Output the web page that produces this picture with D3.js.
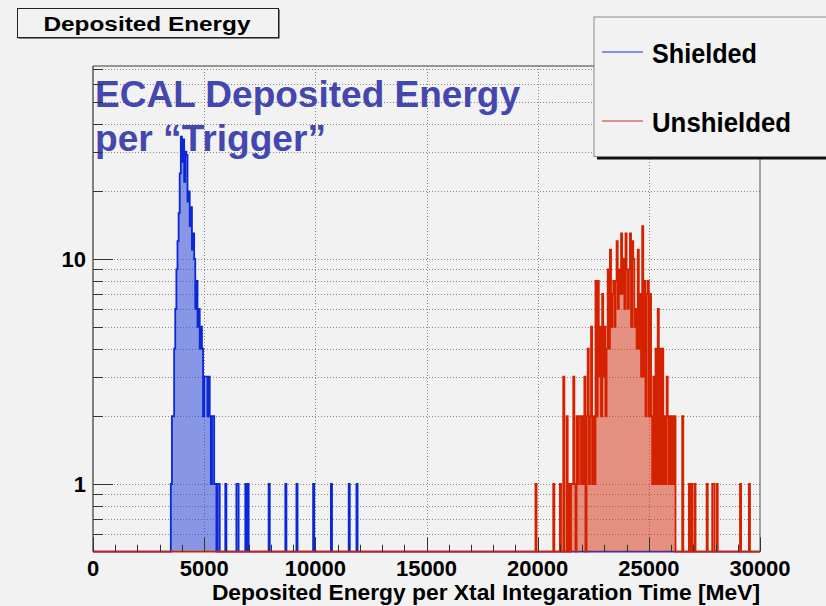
<!DOCTYPE html>
<html lang="en">
<head>
<meta charset="UTF-8">
<script src="https://cdn.jsdelivr.net/npm/d3@7"></script>
<title>Deposited Energy</title>
<style>
    body { margin: 0; background: #f2f2f2; }
    svg { display: block; font-family: "Liberation Sans", Arial, Helvetica, sans-serif; font-weight: bold; }
</style>
</head>
<body>
<div id="chart"></div>
<script>
    // histogram bins are 50 MeV wide, 0 - 30000 MeV
    const binWidth = 50;
    const xMax = 30000;

    // Shielded: main peak (consecutive bins from 3500 MeV) + isolated single hits
    const shieldedStart = 3500;
    const shieldedCounts = [1, 2, 2, 4, 6, 9, 12, 16, 24, 35, 27, 34, 22, 30, 29, 18, 20, 14, 17, 11,
        13, 10, 6, 8, 5, 6, 4, 5, 4, 2, 3, 3, 3, 2, 3, 2, 1, 2, 2, 1, 1, 0, 1, 1];
    const shieldedExtraE = [5950, 6450, 6500, 6850, 6950, 7900, 8650, 9150, 9900, 10700, 11500, 11850];
    const shieldedExtraN = [1, 1, 1, 1, 1, 1, 1, 1, 1, 1, 1, 1];

    // Unshielded: main peak (consecutive bins from 22200 MeV) + sparse bins on both sides
    const unshieldedStart = 22200;
    const unshieldedCounts = [2, 4, 1, 2, 5, 1, 2, 1, 8, 2, 8, 3, 5, 2, 7, 3, 5, 2, 4, 9,
        4, 11, 5, 7, 8, 5, 8, 12, 6, 9, 7, 13, 7, 10, 6, 13, 9, 6, 9, 13,
        5, 12, 10, 5, 6, 4, 11, 4, 7, 3, 14, 3, 8, 2, 7, 8, 2, 7, 2, 1,
        3, 1, 4, 1, 6, 1, 4, 1, 4, 1, 2, 1, 3, 2, 1, 2, 1, 2, 1, 2];
    const unshieldedExtraE = [19900, 20700, 21000, 21150, 21300, 21400, 21500, 21550, 21600, 21650,
        21750, 21800, 21850, 21900, 21950, 22000, 22050, 22100,
        26500, 26800, 26900, 27050, 27600, 27850, 27900, 28050, 29100, 29500];
    const unshieldedExtraN = [1, 1, 1, 3, 2, 1, 1, 1, 3, 1,
        2, 1, 2, 2, 1, 2, 1, 3,
        2, 1, 1, 1, 1, 1, 1, 1, 1, 1];

    const xTicks = [0, 5000, 10000, 15000, 20000, 25000, 30000];
    const yMajor = [1, 10];
    const yMinor = [0.6, 0.7, 0.8, 0.9, 2, 3, 4, 5, 6, 7, 8, 9, 20, 30, 40, 50, 60, 70];

    const W = 826, H = 606;
    const frame = { left: 93, right: 760, top: 66, bottom: 551.7 };

    const x = d3.scaleLinear().domain([0, xMax]).range([frame.left, frame.right]);
    const y = d3.scaleLog().domain([0.5, 72.1]).range([frame.bottom, frame.top]);

    function buildBins(start, counts, extraE, extraN) {
        const n = xMax / binWidth;
        const bins = new Array(n).fill(0);
        counts.forEach((c, i) => { bins[Math.round(start / binWidth) + i] += c; });
        extraE.forEach((e, i) => { bins[Math.round(e / binWidth)] += extraN[i]; });
        const pts = bins.map((c, i) => ({ e: i * binWidth, c }));
        pts.push({ e: xMax, c: bins[n - 1] });
        return pts;
    }

    const shielded = buildBins(shieldedStart, shieldedCounts, shieldedExtraE, shieldedExtraN);
    const unshielded = buildBins(unshieldedStart, unshieldedCounts, unshieldedExtraE, unshieldedExtraN);

    const svg = d3.select("#chart").append("svg").attr("width", W).attr("height", H);
    svg.append("rect").attr("width", W).attr("height", H).attr("fill", "#f2f2f2");

    // grid (dotted)
    const grid = svg.append("g").attr("stroke", "#8a8a8a").attr("stroke-width", 1).attr("stroke-dasharray", "1,2");
    yMajor.concat(yMinor).forEach(v => {
        const yy = Math.round(y(v)) + 0.5;
        grid.append("line").attr("x1", frame.left).attr("x2", frame.right).attr("y1", yy).attr("y2", yy);
    });
    xTicks.slice(1, -1).forEach(v => {
        const xx = Math.round(x(v)) + 0.5;
        grid.append("line").attr("x1", xx).attr("x2", xx).attr("y1", frame.top).attr("y2", frame.bottom);
    });

    // annotation text
    const note = svg.append("g").attr("fill", "#4448ae").style("font-size", "36.5px");
    note.append("text").attr("x", 95).attr("y", 107).attr("textLength", 425).attr("lengthAdjust", "spacingAndGlyphs").text("ECAL Deposited Energy");
    note.append("text").attr("x", 95).attr("y", 151).attr("textLength", 231).attr("lengthAdjust", "spacingAndGlyphs").text("per \u201cTrigger\u201d");

    // histograms
    const yv = d => d.c > 0 ? y(d.c) : frame.bottom;
    const line = d3.line().curve(d3.curveStepAfter).x(d => x(d.e)).y(yv);
    const area = d3.area().curve(d3.curveStepAfter).x(d => x(d.e)).y0(frame.bottom).y1(yv);

    function drawHist(data, fill, stroke) {
        svg.append("path").datum(data).attr("d", area).attr("fill", fill);
        svg.append("path").datum(data).attr("d", line).attr("fill", "none").attr("stroke", stroke)
            .attr("stroke-width", 1.8).attr("stroke-linejoin", "miter");
    }
    drawHist(shielded, "rgba(30,60,215,0.5)", "#0a28d6");
    drawHist(unshielded, "rgba(215,45,15,0.5)", "#d42200");

    // frame
    svg.append("line").attr("x1", frame.left).attr("x2", frame.right).attr("y1", frame.top).attr("y2", frame.top)
        .attr("stroke", "#777").attr("stroke-width", 1.5);
    svg.append("line").attr("x1", frame.right).attr("x2", frame.right).attr("y1", frame.top).attr("y2", frame.bottom)
        .attr("stroke", "#555").attr("stroke-width", 1);
    svg.append("line").attr("x1", frame.left).attr("x2", frame.left).attr("y1", frame.top).attr("y2", frame.bottom)
        .attr("stroke", "#333").attr("stroke-width", 1.2);

    // x axis ticks (inside) and labels
    const axis = svg.append("g").attr("stroke", "#333").attr("stroke-width", 1);
    for (let v = 0; v <= xMax; v += 1000) {
        const xx = Math.round(x(v)) + 0.5;
        const len = v % 5000 === 0 ? 14.5 : 7;
        axis.append("line").attr("x1", xx).attr("x2", xx).attr("y1", frame.bottom).attr("y2", frame.bottom - len);
    }
    yMajor.concat(yMinor).forEach(v => {
        const yy = Math.round(y(v)) + 0.5;
        const len = yMajor.includes(v) ? 20 : 10;
        axis.append("line").attr("x1", frame.left).attr("x2", frame.left + len).attr("y1", yy).attr("y2", yy);
    });

    svg.append("g").selectAll("text").data(xTicks).join("text")
        .attr("x", d => x(d)).attr("y", 576).attr("text-anchor", "middle")
        .style("font-size", "22px").attr("fill", "#000").text(d => d);
    svg.append("g").selectAll("text").data(yMajor).join("text")
        .attr("x", 86).attr("y", d => y(d) + 8).attr("text-anchor", "end")
        .style("font-size", "22px").attr("fill", "#000").text(d => d);

    svg.append("text").attr("x", 760).attr("y", 600).attr("text-anchor", "end")
        .style("font-size", "22.8px").attr("fill", "#000")
        .text("Deposited Energy per Xtal Integaration Time [MeV]");

    // title box
    svg.append("rect").attr("x", 18.5).attr("y", 9.5).attr("width", 261).attr("height", 29).attr("fill", "#111");
    svg.append("rect").attr("x", 17.5).attr("y", 8.5).attr("width", 261).attr("height", 29)
        .attr("fill", "#f2f2f2").attr("stroke", "#222").attr("stroke-width", 1);
    svg.append("text").attr("x", 147).attr("y", 31).attr("text-anchor", "middle")
        .style("font-size", "20px").attr("textLength", 207).attr("lengthAdjust", "spacingAndGlyphs")
        .text("Deposited Energy");

    // legend box
    const legendSeries = ["Shielded", "Unshielded"];
    const legendColors = ["#1a30cc", "#cc3311"];
    svg.append("rect").attr("x", 597).attr("y", 20).attr("width", 240).attr("height", 139.5).attr("fill", "#111");
    svg.append("rect").attr("x", 594).attr("y", 17).attr("width", 240).attr("height", 139.5)
        .attr("fill", "#f2f2f2").attr("stroke", "#888").attr("stroke-width", 1);
    const legendY = [52, 121];
    const legendLen = [105, 139];
    legendSeries.forEach((s, i) => {
        svg.append("line").attr("x1", 602).attr("x2", 643).attr("y1", legendY[i]).attr("y2", legendY[i])
            .attr("stroke", legendColors[i]).attr("stroke-width", 1.2);
        svg.append("text").attr("x", 652).attr("y", legendY[i] + 11)
            .style("font-size", "28px").attr("textLength", legendLen[i]).attr("lengthAdjust", "spacingAndGlyphs")
            .attr("fill", "#000").text(s);
    });
</script>
</body>
</html>
